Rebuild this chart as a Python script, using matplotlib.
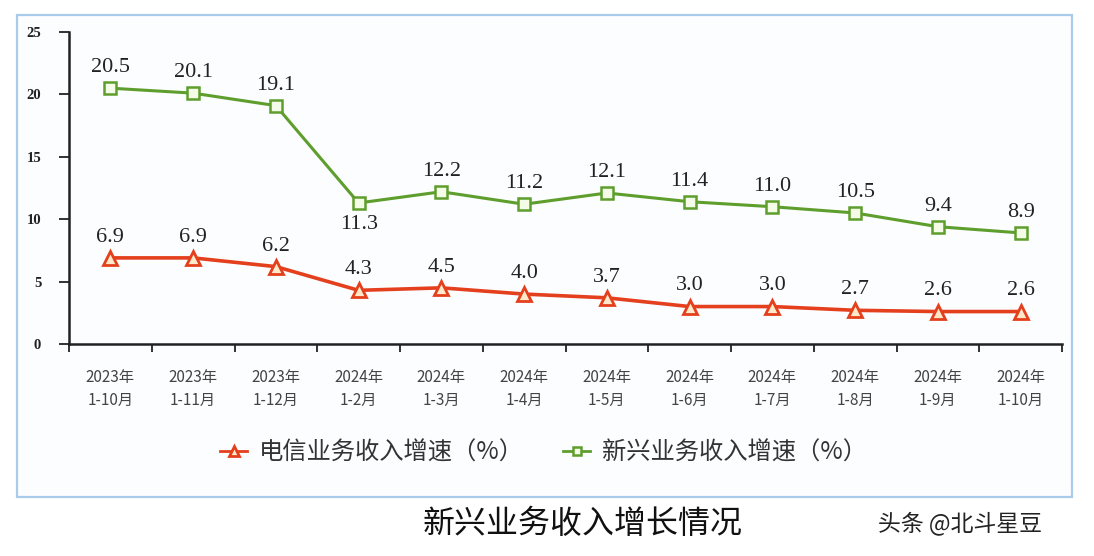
import matplotlib
matplotlib.use("Agg")
import matplotlib.pyplot as plt
from matplotlib.patches import Rectangle

categories = ["2023年\n1-10月", "2023年\n1-11月", "2023年\n1-12月", "2024年\n1-2月",
              "2024年\n1-3月", "2024年\n1-4月", "2024年\n1-5月", "2024年\n1-6月",
              "2024年\n1-7月", "2024年\n1-8月", "2024年\n1-9月", "2024年\n1-10月"]
telecom = [6.9, 6.9, 6.2, 4.3, 4.5, 4.0, 3.7, 3.0, 3.0, 2.7, 2.6, 2.6]
emerging = [20.5, 20.1, 19.1, 11.3, 12.2, 11.2, 12.1, 11.4, 11.0, 10.5, 9.4, 8.9]
yticks = [0, 5, 10, 15, 20, 25]
legend_labels = ["电信业务收入增速（%）", "新兴业务收入增速（%）"]
title = "新兴业务收入增长情况"
watermark = "头条 @北斗星豆"

RED = "#E4401E"
GREEN = "#5E9E2C"
SERIF = ["Liberation Serif", "Noto Sans CJK SC"]
CJK = ["Noto Sans CJK SC", "DejaVu Sans"]

fig = plt.figure(figsize=(10.94, 5.56), dpi=100)
fig.patch.set_facecolor("white")

# outer light-blue frame
frame = Rectangle((17 / 1094, 1 - 497 / 556), (1072 - 17) / 1094, (497 - 15) / 556,
                  transform=fig.transFigure, fill=True, facecolor="#FBFDFF",
                  edgecolor="#A9CCEA", linewidth=1.6, zorder=-5)
fig.patches.append(frame)

ax = fig.add_axes([69 / 1094, 1 - 344 / 556, (1062 - 69) / 1094, (344 - 32) / 556])
ax.set_facecolor("none")
ax.set_zorder(2)
x = list(range(len(categories)))

ax.plot(x, telecom, color=RED, lw=2.6, marker="^", ms=10, mfc="#FFE9C8", mec=RED, mew=2,
        label=legend_labels[0], zorder=3)
ax.plot(x, emerging, color=GREEN, lw=2.2, marker="s", ms=8, mfc="#F4FBE6", mec=GREEN, mew=1.8,
        label=legend_labels[1], zorder=3)

for i, v in enumerate(telecom):
    ax.annotate(f"{v:.1f}", (i, v), xytext=(0, 8), textcoords="offset points",
                ha="center", va="bottom", fontsize=16, family=SERIF, color="#222222")
for i, v in enumerate(emerging):
    if i == 3:
        ax.annotate(f"{v:.1f}", (i, v), xytext=(0, -9), textcoords="offset points",
                    ha="center", va="top", fontsize=16, family=SERIF, color="#222222")
    else:
        ax.annotate(f"{v:.1f}", (i, v), xytext=(0, 8), textcoords="offset points",
                    ha="center", va="bottom", fontsize=16, family=SERIF, color="#222222")

ax.set_xlim(-0.5, len(categories) - 0.5)
ax.set_ylim(0, 25)
ax.set_yticks(yticks)
ax.set_yticklabels([str(t) for t in yticks], family=SERIF, fontsize=10.5, fontweight="bold",
                   color="#222222")
ax.set_xticks([i for i in x])
ax.set_xticklabels(categories, family=CJK, fontsize=11, color="#444444", linespacing=1.45)
ax.tick_params(axis="x", length=0, pad=18)
ax.set_xticks([i - 0.5 for i in range(len(categories) + 1)], minor=True)
ax.tick_params(axis="x", which="minor", length=6, direction="out", width=1.3, color="#222222")
ax.tick_params(axis="y", length=7, direction="out", width=1.3, color="#222222", pad=13)
for s in ["top", "right"]:
    ax.spines[s].set_visible(False)
for s in ["left", "bottom"]:
    ax.spines[s].set_linewidth(1.8)
    ax.spines[s].set_color("#222222")

leg = fig.legend(loc="center", bbox_to_anchor=(0.497, 1 - 453 / 556), ncol=2, frameon=False,
                 prop={"family": CJK, "size": 17.5}, handlelength=1.1, columnspacing=1.6,
                 handletextpad=0.5, markerscale=0.75)
for t in leg.get_texts():
    t.set_color("#333333")
for h in leg.legend_handles:
    h.set_linewidth(2)

fig.text(583 / 1094, 1 - 524 / 556, title, ha="center", va="center", fontsize=23,
         family=CJK, color="#111111")
fig.text(960 / 1094, 1 - 523 / 556, watermark, ha="center", va="center", fontsize=16.5,
         family=CJK, color="#222222")

fig.savefig("out.png", dpi=100)
